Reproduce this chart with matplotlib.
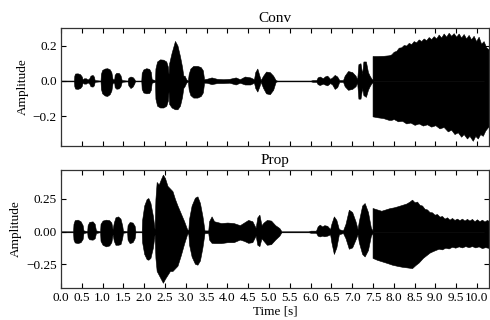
import matplotlib
matplotlib.use("Agg")
import matplotlib.pyplot as plt

plt.rcParams['font.family'] = ['Liberation Serif', 'DejaVu Serif']
plt.rcParams['axes.unicode_minus'] = True

# ---------------- data: amplitude envelopes ----------------
# Conv panel: speech part (time, upper, lower)
conv_t = [0.00, 0.31, 0.32, 0.34, 0.40, 0.46, 0.50, 0.52, 0.55, 0.60, 0.64, 0.68, 0.71, 0.76, 0.79, 0.81,
          0.95, 0.96, 0.99, 1.05, 1.11, 1.17, 1.21, 1.24, 1.28, 1.29, 1.33, 1.39, 1.43, 1.46,
          1.60, 1.62, 1.67, 1.72, 1.76, 1.78, 1.93, 1.94, 1.98, 2.05, 2.12, 2.16, 2.18,
          2.26, 2.27, 2.31, 2.38, 2.46, 2.53, 2.57, 2.585, 2.60, 2.66, 2.74, 2.80, 2.86, 2.91, 2.94,
          2.97, 3.01, 3.05, 3.07, 3.11, 3.18, 3.28, 3.36, 3.41, 3.44,
          3.50, 3.62, 3.75, 3.90, 4.05, 4.20, 4.30, 4.42, 4.55, 4.64,
          4.67, 4.72, 4.77, 4.80, 4.86, 4.93, 5.02, 5.10, 5.16,
          5.20, 6.00, 6.05, 6.14, 6.17, 6.22, 6.30, 6.34, 6.40, 6.47,
          6.52, 6.58, 6.64, 6.69, 6.78, 6.82, 6.90, 7.00, 7.08, 7.12,
          7.15, 7.20, 7.24, 7.27, 7.33, 7.38, 7.42, 7.47, 7.49]
conv_up = [0.002, 0.002, 0.030, 0.042, 0.043, 0.038, 0.025, 0.008, 0.015, 0.015, 0.008, 0.015, 0.030, 0.034, 0.025, 0.005,
           0.002, 0.040, 0.062, 0.070, 0.072, 0.066, 0.050, 0.010, 0.010, 0.035, 0.046, 0.045, 0.032, 0.005,
           0.002, 0.018, 0.025, 0.022, 0.012, 0.002, 0.002, 0.045, 0.065, 0.072, 0.068, 0.050, 0.010,
           0.005, 0.070, 0.110, 0.122, 0.120, 0.110, 0.080, 0.040, 0.100, 0.160, 0.226, 0.200, 0.140, 0.080, 0.030,
           0.030, 0.010, 0.002, 0.040, 0.070, 0.085, 0.085, 0.078, 0.060, 0.010,
           0.012, 0.020, 0.012, 0.010, 0.012, 0.020, 0.010, 0.025, 0.020, 0.010,
           0.050, 0.070, 0.030, 0.005, 0.030, 0.053, 0.050, 0.030, 0.005,
           0.002, 0.002, 0.005, 0.005, 0.020, 0.025, 0.015, 0.025, 0.030, 0.012,
           0.020, 0.034, 0.025, 0.005, 0.005, 0.030, 0.056, 0.050, 0.030, 0.008,
           0.095, 0.100, 0.040, 0.110, 0.110, 0.050, 0.030, 0.010, 0.010]
conv_lo = [-0.002, -0.002, -0.030, -0.043, -0.045, -0.040, -0.028, -0.008, -0.015, -0.015, -0.008, -0.015, -0.030, -0.032, -0.025, -0.005,
           -0.002, -0.045, -0.070, -0.082, -0.085, -0.075, -0.055, -0.010, -0.010, -0.035, -0.044, -0.042, -0.030, -0.005,
           -0.002, -0.025, -0.040, -0.032, -0.015, -0.002, -0.002, -0.045, -0.065, -0.070, -0.068, -0.050, -0.010,
           -0.005, -0.100, -0.140, -0.150, -0.150, -0.140, -0.110, -0.060, -0.130, -0.150, -0.160, -0.160, -0.140, -0.090, -0.040,
           -0.030, -0.010, -0.002, -0.050, -0.080, -0.094, -0.094, -0.085, -0.065, -0.010,
           -0.010, -0.018, -0.012, -0.012, -0.010, -0.020, -0.010, -0.020, -0.020, -0.010,
           -0.040, -0.060, -0.030, -0.005, -0.040, -0.070, -0.075, -0.050, -0.005,
           -0.002, -0.002, -0.005, -0.005, -0.018, -0.023, -0.015, -0.020, -0.025, -0.012,
           -0.020, -0.045, -0.035, -0.005, -0.005, -0.030, -0.050, -0.045, -0.030, -0.008,
           -0.100, -0.100, -0.040, -0.080, -0.090, -0.050, -0.030, -0.010, -0.010]

# Conv panel: sustained tail, upper and lower envelopes
conv_tail_t_up = [7.49, 7.60, 7.75, 7.88, 7.94, 8.00, 8.06, 8.12, 8.18, 8.24, 8.30, 8.36, 8.42, 8.48, 8.54,
                  8.60, 8.66, 8.72, 8.78, 8.84, 8.90, 8.96, 9.02, 9.08, 9.14, 9.20, 9.26, 9.32, 9.38,
                  9.44, 9.50, 9.56, 9.62, 9.68, 9.74, 9.80, 9.86, 9.92, 9.98, 10.04, 10.10, 10.16,
                  10.22, 10.30]
conv_tail_up = [0.141, 0.141, 0.142, 0.145, 0.150, 0.165, 0.170, 0.188, 0.190, 0.203, 0.200, 0.215, 0.208,
                0.225, 0.218, 0.235, 0.225, 0.240, 0.230, 0.248, 0.236, 0.253, 0.240, 0.262, 0.245, 0.268,
                0.250, 0.272, 0.255, 0.270, 0.250, 0.268, 0.245, 0.265, 0.240, 0.260, 0.235, 0.255, 0.225,
                0.250, 0.210, 0.225, 0.190, 0.175]
conv_tail_t_lo = [7.49, 7.60, 7.75, 7.88, 7.94, 8.00, 8.10, 8.20, 8.30, 8.40, 8.50, 8.60, 8.70, 8.80, 8.90,
                  9.00, 9.10, 9.20, 9.30, 9.38, 9.46, 9.54, 9.62, 9.68, 9.76, 9.82, 9.90, 9.96, 10.02,
                  10.08, 10.14, 10.20, 10.30]
conv_tail_lo = [-0.200, -0.205, -0.210, -0.220, -0.220, -0.215, -0.228, -0.225, -0.240, -0.235, -0.248,
                -0.240, -0.252, -0.245, -0.258, -0.250, -0.268, -0.260, -0.285, -0.275, -0.300, -0.290,
                -0.315, -0.300, -0.325, -0.310, -0.338, -0.310, -0.325, -0.300, -0.310, -0.280, -0.250]

# Prop panel: speech part (time, upper, lower)
prop_t = [0.00, 0.29, 0.30, 0.33, 0.40, 0.47, 0.52, 0.54, 0.63, 0.64, 0.68, 0.76, 0.81, 0.84,
          0.94, 0.95, 1.00, 1.08, 1.16, 1.21, 1.24, 1.27, 1.31, 1.37, 1.43, 1.47, 1.49,
          1.59, 1.60, 1.65, 1.72, 1.77, 1.79, 1.94, 1.95, 2.00, 2.06, 2.10, 2.15, 2.21, 2.25,
          2.27, 2.30, 2.35, 2.40, 2.45, 2.50, 2.56, 2.62, 2.68, 2.74, 2.80, 2.88, 2.96, 3.03,
          3.06, 3.08, 3.14, 3.22, 3.28, 3.34, 3.40, 3.45,
          3.54, 3.56, 3.62, 3.68, 3.85, 4.00, 4.15, 4.30, 4.40, 4.50, 4.60, 4.68,
          4.72, 4.77, 4.82, 4.87, 4.95, 5.05, 5.15, 5.25, 5.30,
          5.95, 6.00, 6.13, 6.17, 6.22, 6.28, 6.33, 6.40, 6.47,
          6.50, 6.56, 6.62, 6.68, 6.78, 6.84, 6.92, 7.00, 7.08, 7.13,
          7.16, 7.24, 7.30, 7.38, 7.45, 7.49]
prop_up = [0.003, 0.003, 0.060, 0.088, 0.092, 0.080, 0.050, 0.010, 0.004, 0.050, 0.075, 0.079, 0.060, 0.010,
           0.003, 0.060, 0.085, 0.092, 0.088, 0.070, 0.020, 0.070, 0.110, 0.117, 0.100, 0.050, 0.008,
           0.003, 0.050, 0.074, 0.070, 0.045, 0.003, 0.003, 0.090, 0.200, 0.250, 0.257, 0.220, 0.120, 0.020,
           0.250, 0.380, 0.360, 0.400, 0.436, 0.410, 0.350, 0.330, 0.310, 0.250, 0.200, 0.140, 0.080, 0.020,
           0.010, 0.100, 0.200, 0.260, 0.270, 0.220, 0.120, 0.010,
           0.010, 0.080, 0.117, 0.080, 0.066, 0.070, 0.066, 0.050, 0.070, 0.090, 0.080, 0.030,
           0.110, 0.130, 0.050, 0.070, 0.090, 0.085, 0.050, 0.028, 0.003,
           0.003, 0.008, 0.008, 0.040, 0.054, 0.040, 0.050, 0.045, 0.020,
           0.060, 0.117, 0.090, 0.020, 0.010, 0.060, 0.168, 0.150, 0.080, 0.020,
           0.080, 0.200, 0.219, 0.150, 0.030, 0.010]
prop_lo = [-0.003, -0.003, -0.060, -0.082, -0.087, -0.080, -0.055, -0.010, -0.004, -0.040, -0.058, -0.061, -0.050, -0.010,
           -0.003, -0.070, -0.100, -0.112, -0.105, -0.080, -0.020, -0.070, -0.100, -0.100, -0.095, -0.050, -0.008,
           -0.003, -0.060, -0.087, -0.080, -0.050, -0.003, -0.003, -0.080, -0.170, -0.210, -0.214, -0.200, -0.120, -0.020,
           -0.200, -0.300, -0.330, -0.360, -0.390, -0.360, -0.330, -0.300, -0.300, -0.280, -0.260, -0.180, -0.090, -0.020,
           -0.010, -0.100, -0.190, -0.245, -0.252, -0.220, -0.120, -0.010,
           -0.010, -0.060, -0.085, -0.087, -0.087, -0.080, -0.080, -0.060, -0.070, -0.085, -0.080, -0.030,
           -0.100, -0.110, -0.050, -0.070, -0.100, -0.095, -0.060, -0.030, -0.003,
           -0.003, -0.008, -0.008, -0.030, -0.036, -0.030, -0.035, -0.030, -0.020,
           -0.080, -0.170, -0.120, -0.020, -0.010, -0.050, -0.130, -0.120, -0.060, -0.020,
           -0.080, -0.170, -0.189, -0.140, -0.030, -0.010]

# Prop panel: sustained tail, upper and lower envelopes
prop_tail_t_up = [7.49, 7.60, 7.70, 7.80, 7.90, 8.00, 8.10, 8.20, 8.30, 8.38, 8.44, 8.50, 8.56, 8.62,
                  8.68, 8.74, 8.80, 8.86, 8.92, 8.98, 9.04, 9.10, 9.16, 9.22, 9.28, 9.34, 9.40, 9.46,
                  9.52, 9.58, 9.64, 9.70, 9.76, 9.82, 9.88, 9.94, 10.00, 10.06, 10.12, 10.18, 10.24, 10.30]
prop_tail_up = [0.181, 0.170, 0.160, 0.170, 0.180, 0.186, 0.195, 0.205, 0.215, 0.230, 0.245, 0.225, 0.230,
                0.205, 0.200, 0.175, 0.170, 0.150, 0.148, 0.130, 0.135, 0.115, 0.120, 0.100, 0.110, 0.092,
                0.105, 0.090, 0.100, 0.088, 0.100, 0.085, 0.098, 0.085, 0.098, 0.080, 0.095, 0.080, 0.092,
                0.078, 0.090, 0.080]
prop_tail_t_lo = [7.49, 7.60, 7.72, 7.85, 7.96, 8.10, 8.20, 8.30, 8.44, 8.52, 8.60, 8.70, 8.78, 8.86, 8.94,
                  9.00, 9.08, 9.16, 9.24, 9.32, 9.40, 9.48, 9.56, 9.64, 9.72, 9.80, 9.88, 9.96, 10.04,
                  10.12, 10.20, 10.30]
prop_tail_lo = [-0.200, -0.215, -0.227, -0.240, -0.252, -0.262, -0.268, -0.272, -0.278, -0.255, -0.235,
                -0.200, -0.180, -0.160, -0.148, -0.140, -0.130, -0.135, -0.122, -0.128, -0.115, -0.122,
                -0.112, -0.120, -0.110, -0.118, -0.110, -0.120, -0.112, -0.125, -0.118, -0.125]

panel_titles = ["Conv", "Prop"]
x_ticks = [0.0, 0.5, 1.0, 1.5, 2.0, 2.5, 3.0, 3.5, 4.0, 4.5, 5.0, 5.5, 6.0, 6.5, 7.0,
           7.5, 8.0, 8.5, 9.0, 9.5, 10.0]
conv_yticks = [-0.2, 0.0, 0.2]
prop_yticks = [-0.25, 0.0, 0.25]

# ---------------- figure ----------------
fig = plt.figure(figsize=(4.9, 3.2), dpi=100)
ax1 = fig.add_axes([0.1245, 0.544, 0.8735, 0.369])
ax2 = fig.add_axes([0.1245, 0.100, 0.8735, 0.369], sharex=ax1)

panels = [
    (ax1, conv_t, conv_up, conv_lo, conv_tail_t_up, conv_tail_up, conv_tail_t_lo, conv_tail_lo,
     conv_yticks, (-0.367, 0.30), "{:.1f}"),
    (ax2, prop_t, prop_up, prop_lo, prop_tail_t_up, prop_tail_up, prop_tail_t_lo, prop_tail_lo,
     prop_yticks, (-0.43, 0.472), "{:.2f}"),
]

for (ax, t, up, lo, tu, u, tl, l, yt, ylim, fmt), title in zip(panels, panel_titles):
    ax.plot(t, [0] * len(t), color='#555555', linewidth=0.9, zorder=1)
    ax.fill_between(t, lo, up, facecolor='black', linewidth=0.4, edgecolor='black', zorder=2)
    ax.fill_between(tu, 0, u, facecolor='black', linewidth=0.4, edgecolor='black', zorder=2)
    ax.fill_between(tl, l, 0, facecolor='black', linewidth=0.4, edgecolor='black', zorder=2)
    ax.set_xlim(0, 10.29)
    ax.set_ylim(*ylim)
    ax.set_yticks(yt)
    ax.set_yticklabels([fmt.format(v).replace('-', '\u2212') for v in yt])
    ax.set_xticks(x_ticks)
    ax.tick_params(direction='in', top=True, right=True, length=3.5, width=0.8,
                   labelsize=9.5, pad=3)
    ax.set_ylabel("Amplitude", fontsize=9.5, labelpad=3)
    ax.set_title(title, fontsize=11, pad=4)
    for sp in ax.spines.values():
        sp.set_linewidth(0.9)
        sp.set_color('#333333')

ax2.set_xticklabels(["{:.1f}".format(v) for v in x_ticks])
ax1.tick_params(labelbottom=False)
ax2.set_xlabel("Time [s]", fontsize=9.5, labelpad=1)

fig.savefig("out.png", dpi=100)
